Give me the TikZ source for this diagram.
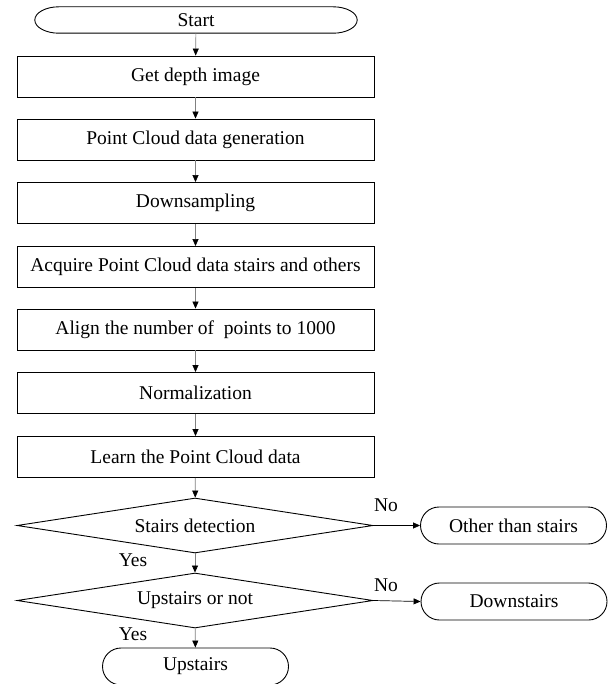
\documentclass[tikz,border=0pt]{standalone}
\usepackage{fontspec}
\setmainfont{Liberation Serif}
\usetikzlibrary{shapes.geometric, shapes.misc, arrows.meta}
\usetikzlibrary{positioning}

\tikzset{
	procBox/.style={
		draw=black
		,line width=0.9pt
		,rectangle
		,minimum width=357pt
		,minimum height=41pt
		,inner sep=0pt
	},
	startBox/.style={
		rectangle
		,minimum width=322pt
		,minimum height=26pt
		,inner sep=0pt
	},
	endBox/.style={
		draw=black
		,line width=0.9pt
		,rounded rectangle
		,minimum width=186pt
		,minimum height=37pt
		,inner sep=0pt
	},
	decBox/.style={
		draw=black
		,line width=0.9pt
		,diamond
		,aspect=6.47
		,minimum width=356pt
		,minimum height=55pt
		,inner sep=0pt
	},
	flowArrow/.style={
		draw=black!50
		,line width=0.7pt
		,-{Triangle[length=7pt, width=6pt, color=black, fill=black]}
	},
	sideArrow/.style={
		draw=black
		,line width=0.7pt
		,-{Triangle[length=7pt, width=6pt, color=black, fill=black]}
	},
}

\begin{document}
\begin{tikzpicture}[x=1pt, y=-1pt
    ,   font=\fontsize{19.5}{22}\selectfont
    ,   lbl/.style={inner sep=0pt}]
\useasboundingbox (0,0) rectangle (613,684);

% main column
\node[startBox] (start) at (196,20){Start};
\node[procBox] (depth) at (195.5,76.5){Get depth image};
\node[procBox] (cloud) at (195.5,139.5){Point Cloud data generation};
\node[procBox] (down) at (195.5,203){Downsampling};
\node[procBox] (acq) at (195.5,267){Acquire Point Cloud data stairs and others};
\node[procBox] (align) at (195.5,329.5){Align the number of~ points to 1000};
\node[procBox] (norm) at (195.5,393){Normalization};
\node[procBox] (learn) at (195.5,457){Learn the Point Cloud data};

% outline of the start terminal, elliptic ends
\draw[line width=0.9pt] ([xshift=24pt]start.north west) -- ([xshift=-24pt]start.north east)
    .. controls ([xshift=-10.8pt]start.north east) and ([yshift=7.2pt]start.east) .. (start.east)
    .. controls ([yshift=-7.2pt]start.east) and ([xshift=-10.8pt]start.south east) .. ([xshift=-24pt]start.south east)
    -- ([xshift=24pt]start.south west)
    .. controls ([xshift=10.8pt]start.south west) and ([yshift=-7.2pt]start.west) .. (start.west)
    .. controls ([yshift=7.2pt]start.west) and ([xshift=10.8pt]start.north west) .. cycle;

% decisions
\node[decBox] (stairs) at (195,525.5){Stairs detection};
\node[decBox] (upnot) at (195,600.5){Upstairs or not};

% results
\node[endBox] (other) at (513.5,525.5){Other than stairs};
\node[endBox] (dstairs) at (514,601.5){Downstairs};
\node[endBox] (ustairs) at (195.5,666.5){Upstairs};

\node[lbl] (no1) at (386,505){No};
\node[lbl] (no2) at (386,585){No};
\node[lbl] (yes1) at (133,560){Yes};
\node[lbl] (yes2) at (133,634){Yes};

\draw[flowArrow] (start) -- (depth);
\draw[flowArrow] (depth) -- (cloud);
\draw[flowArrow] (cloud) -- (down);
\draw[flowArrow] (down) -- (acq);
\draw[flowArrow] (acq) -- (align);
\draw[flowArrow] (align) -- (norm);
\draw[flowArrow] (norm) -- (learn);
\draw[flowArrow] (learn) -- (stairs);
\draw[flowArrow] (stairs) -- (upnot);
\draw[flowArrow] (upnot) -- (ustairs);
\draw[sideArrow] (stairs.east) -- (other.west);
\draw[sideArrow] (upnot.east) -- (dstairs.west);

\end{tikzpicture}
\end{document}
